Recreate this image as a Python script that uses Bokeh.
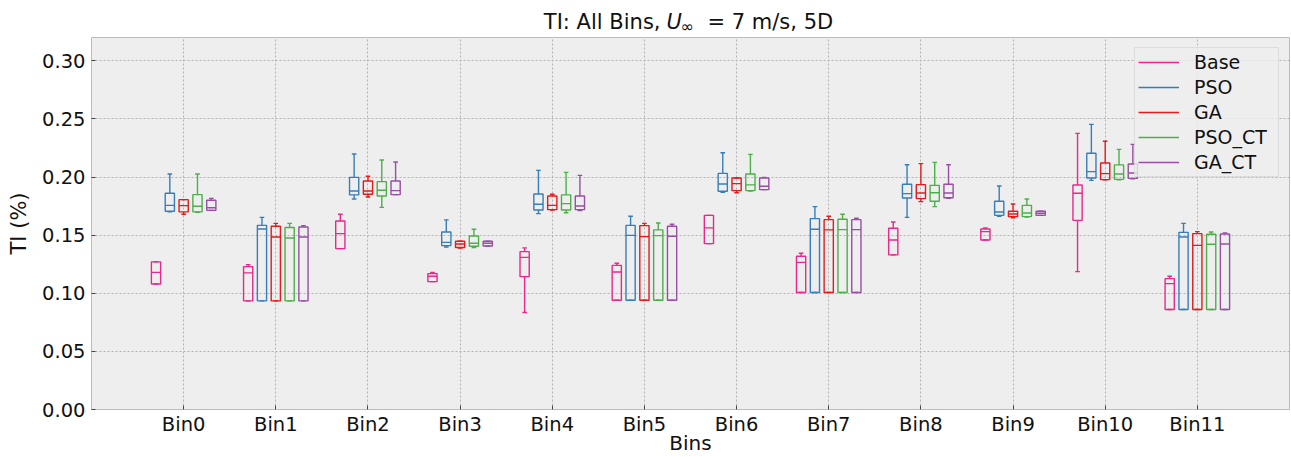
import numpy as np
from bokeh.plotting import figure
from bokeh.layouts import column
from bokeh.models import (Range1d, FixedTicker, PrintfTickFormatter, Label,
                          Legend, LegendItem, ColumnDataSource)
from bokeh.embed import file_html
from bokeh.resources import INLINE

# Bin names on the x axis
BINS = ["Bin0", "Bin1", "Bin2", "Bin3", "Bin4", "Bin5",
        "Bin6", "Bin7", "Bin8", "Bin9", "Bin10", "Bin11"]

# Box statistics per bin: (whisker_low, q1, median, q3, whisker_high)
BASE = [
    (0.1080, 0.1080, 0.1180, 0.1270, 0.1270),
    (0.0934, 0.0934, 0.1175, 0.1229, 0.1246),
    (0.1384, 0.1384, 0.1513, 0.1622, 0.1679),
    (0.1100, 0.1100, 0.1146, 0.1169, 0.1178),
    (0.0834, 0.1143, 0.1309, 0.1358, 0.1390),
    (0.0940, 0.0940, 0.1183, 0.1240, 0.1258),
    (0.1427, 0.1427, 0.1562, 0.1670, 0.1670),
    (0.1006, 0.1006, 0.1266, 0.1318, 0.1344),
    (0.1330, 0.1330, 0.1458, 0.1559, 0.1613),
    (0.1458, 0.1458, 0.1530, 0.1553, 0.1562),
    (0.1186, 0.1627, 0.1860, 0.1931, 0.2375),
    (0.0860, 0.0860, 0.1083, 0.1126, 0.1146),
]
PSO = [
    (0.1700, 0.1705, 0.1756, 0.1860, 0.2026),
    (0.0934, 0.0934, 0.1553, 0.1584, 0.1653),
    (0.1811, 0.1846, 0.1880, 0.1997, 0.2198),
    (0.1398, 0.1410, 0.1438, 0.1527, 0.1631),
    (0.1685, 0.1716, 0.1765, 0.1854, 0.2057),
    (0.0940, 0.0940, 0.1498, 0.1584, 0.1662),
    (0.1868, 0.1877, 0.1940, 0.2031, 0.2209),
    (0.1006, 0.1006, 0.1550, 0.1642, 0.1745),
    (0.1653, 0.1819, 0.1857, 0.1937, 0.2106),
    (0.1662, 0.1670, 0.1699, 0.1791, 0.1923),
    (0.1971, 0.1992, 0.2046, 0.2204, 0.2453),
    (0.0860, 0.0860, 0.1484, 0.1524, 0.1601),
]
GA = [
    (0.1680, 0.1700, 0.1754, 0.1805, 0.1805),
    (0.0934, 0.0934, 0.1484, 0.1576, 0.1601),
    (0.1828, 0.1851, 0.1880, 0.1966, 0.2006),
    (0.1388, 0.1393, 0.1424, 0.1447, 0.1447),
    (0.1715, 0.1719, 0.1756, 0.1837, 0.1851),
    (0.0940, 0.0940, 0.1487, 0.1582, 0.1601),
    (0.1865, 0.1883, 0.1943, 0.1991, 0.1991),
    (0.1006, 0.1006, 0.1545, 0.1633, 0.1662),
    (0.1788, 0.1814, 0.1863, 0.1934, 0.2115),
    (0.1650, 0.1659, 0.1682, 0.1705, 0.1768),
    (0.1975, 0.1977, 0.2029, 0.2120, 0.2307),
    (0.0860, 0.0860, 0.1412, 0.1513, 0.1530),
]
PSO_CT = [
    (0.1697, 0.1700, 0.1748, 0.1848, 0.2026),
    (0.0934, 0.0934, 0.1475, 0.1565, 0.1601),
    (0.1739, 0.1837, 0.1886, 0.1960, 0.2146),
    (0.1393, 0.1404, 0.1430, 0.1493, 0.1550),
    (0.1693, 0.1716, 0.1771, 0.1846, 0.2040),
    (0.0940, 0.0940, 0.1496, 0.1545, 0.1604),
    (0.1880, 0.1883, 0.1932, 0.2026, 0.2195),
    (0.1006, 0.1006, 0.1547, 0.1636, 0.1679),
    (0.1745, 0.1791, 0.1865, 0.1928, 0.2126),
    (0.1655, 0.1659, 0.1690, 0.1756, 0.1811),
    (0.1975, 0.1980, 0.2026, 0.2104, 0.2238),
    (0.0860, 0.0860, 0.1421, 0.1507, 0.1527),
]
GA_CT = [
    (0.1713, 0.1713, 0.1736, 0.1800, 0.1816),
    (0.0934, 0.0934, 0.1484, 0.1570, 0.1582),
    (0.1848, 0.1848, 0.1883, 0.1966, 0.2129),
    (0.1407, 0.1407, 0.1430, 0.1447, 0.1447),
    (0.1711, 0.1719, 0.1750, 0.1837, 0.2014),
    (0.0940, 0.0940, 0.1490, 0.1576, 0.1593),
    (0.1891, 0.1891, 0.1920, 0.1991, 0.1997),
    (0.1006, 0.1006, 0.1547, 0.1633, 0.1645),
    (0.1817, 0.1822, 0.1863, 0.1937, 0.2106),
    (0.1670, 0.1670, 0.1688, 0.1705, 0.1705),
    (0.1985, 0.1988, 0.2034, 0.2112, 0.2281),
    (0.0860, 0.0860, 0.1424, 0.1510, 0.1519),
]

SERIES = ["Base", "PSO", "GA", "PSO_CT", "GA_CT"]
STATS = [BASE, PSO, GA, PSO_CT, GA_CT]
COLORS = ["#e7298a", "#377eb8", "#e41a1c", "#4daf4a", "#984ea3"]
OFFSETS = [-0.30, -0.15, 0.0, 0.15, 0.30]
Y_TICKS = [0.0, 0.05, 0.10, 0.15, 0.20, 0.25, 0.30]

FONT = "DejaVu Sans"
TXT = "#111111"
BOX_W = 0.10
CAP_W = 0.05
LW = 1.4
W = 1291
TITLE_H = 37
MAIN_H = 420
X_LO, X_HI = -1, 12
X_MID = (X_LO + X_HI) / 2

# ---- title strip: U is italic and carries a subscript infinity ----
# The strip shares the plot's x extent, so the column lines its frame up
# with the plot frame and X_MID is the frame centre.
top = figure(width=W, height=TITLE_H, output_backend="svg",
             toolbar_location=None, x_range=Range1d(X_LO, X_HI),
             y_range=Range1d(0, TITLE_H), x_axis_type=None, y_axis_type=None,
             min_border=0, title=None)
top.outline_line_color = None
top.background_fill_color = "white"
top.border_fill_color = "white"
top.xgrid.visible = False
top.ygrid.visible = False

kw = dict(x=X_MID, y=16, text_font=FONT, text_color=TXT,
          text_baseline="alphabetic")
top.add_layout(Label(text="TI: All Bins,", text_align="right", x_offset=-30,
                     text_font_size="21px", **kw))
top.add_layout(Label(text="U", text_align="left", x_offset=-24,
                     text_font_size="21px", text_font_style="italic", **kw))
top.add_layout(Label(text="\u221e", text_align="left", x_offset=-10,
                     y_offset=-5, text_font_size="16px", **kw))
top.add_layout(Label(text="= 7 m/s, 5D", text_align="left", x_offset=17,
                     text_font_size="21px", **kw))

# ---- main box plot ----
p = figure(width=W, height=MAIN_H, output_backend="svg", toolbar_location=None,
           x_range=Range1d(X_LO, X_HI), y_range=Range1d(0, 0.32), title=None,
           min_border_left=91, min_border_right=2, min_border_top=0,
           min_border_bottom=47)

p.background_fill_color = "#eeeeee"
p.border_fill_color = "white"
p.outline_line_color = "#bcbcbc"
p.outline_line_width = 1

p.xaxis.ticker = FixedTicker(ticks=list(range(len(BINS))))
p.xaxis.major_label_overrides = {i: b for i, b in enumerate(BINS)}
p.yaxis.ticker = FixedTicker(ticks=Y_TICKS)
p.yaxis.formatter = PrintfTickFormatter(format="%.2f")
for ax in (p.xaxis[0], p.yaxis[0]):
    ax.axis_line_color = None
    ax.major_tick_in = 4
    ax.major_tick_out = 0
    ax.major_tick_line_color = "#444444"
    ax.minor_tick_line_color = None
    ax.major_label_text_font = FONT
    ax.major_label_text_font_size = "19.5px"
    ax.major_label_text_color = TXT
    ax.axis_label_text_font = FONT
    ax.axis_label_text_font_style = "normal"
    ax.axis_label_text_color = TXT
p.xaxis.major_label_standoff = 3
p.yaxis.major_label_standoff = 6

p.yaxis.axis_label = "TI (%)"
p.yaxis.axis_label_text_font_size = "21px"
p.yaxis.axis_label_standoff = 8

p.xaxis.axis_label = "Bins"
p.xaxis.axis_label_text_font_size = "20px"
p.xaxis.axis_label_standoff = -8

for g in (p.xgrid[0], p.ygrid[0]):
    g.grid_line_color = "#b2b2b2"
    g.grid_line_dash = "2 2"
    g.grid_line_width = 1

legend_items = []
idx = np.arange(len(BINS))
for name, stats, color, off in zip(SERIES, STATS, COLORS, OFFSETS):
    arr = np.array(stats)
    x = idx + off
    src = ColumnDataSource(dict(
        x=x, left=x - BOX_W / 2, right=x + BOX_W / 2,
        cl=x - CAP_W / 2, cr=x + CAP_W / 2,
        lo=arr[:, 0], q1=arr[:, 1], med=arr[:, 2], q3=arr[:, 3], hi=arr[:, 4],
    ))
    p.quad(left="left", right="right", bottom="q1", top="q3", source=src,
           fill_alpha=0, line_color=color, line_width=LW)
    wr = p.segment(x0="x", x1="x", y0="q3", y1="hi", source=src,
                   line_color=color, line_width=LW)
    p.segment(x0="x", x1="x", y0="q1", y1="lo", source=src,
              line_color=color, line_width=LW)
    p.segment(x0="cl", x1="cr", y0="hi", y1="hi", source=src,
              line_color=color, line_width=LW)
    p.segment(x0="cl", x1="cr", y0="lo", y1="lo", source=src,
              line_color=color, line_width=LW)
    p.segment(x0="left", x1="right", y0="med", y1="med", source=src,
              line_color=color, line_width=LW)
    legend_items.append(LegendItem(label=name, renderers=[wr]))

legend = Legend(items=legend_items, location="top_right")
legend.label_text_font = FONT
legend.label_text_font_size = "19px"
legend.label_text_color = TXT
legend.glyph_width = 41
legend.glyph_height = 20
legend.label_height = 20
legend.label_width = 81
legend.label_standoff = 15
legend.spacing = 3
legend.padding = 3
legend.margin = 10
legend.border_line_color = "#cccccc"
legend.border_line_width = 1
legend.background_fill_color = "#eeeeee"
legend.background_fill_alpha = 0.8
p.add_layout(legend)

layout = column(top, p, spacing=0)
open("out.html", "w").write(file_html(layout, INLINE))
